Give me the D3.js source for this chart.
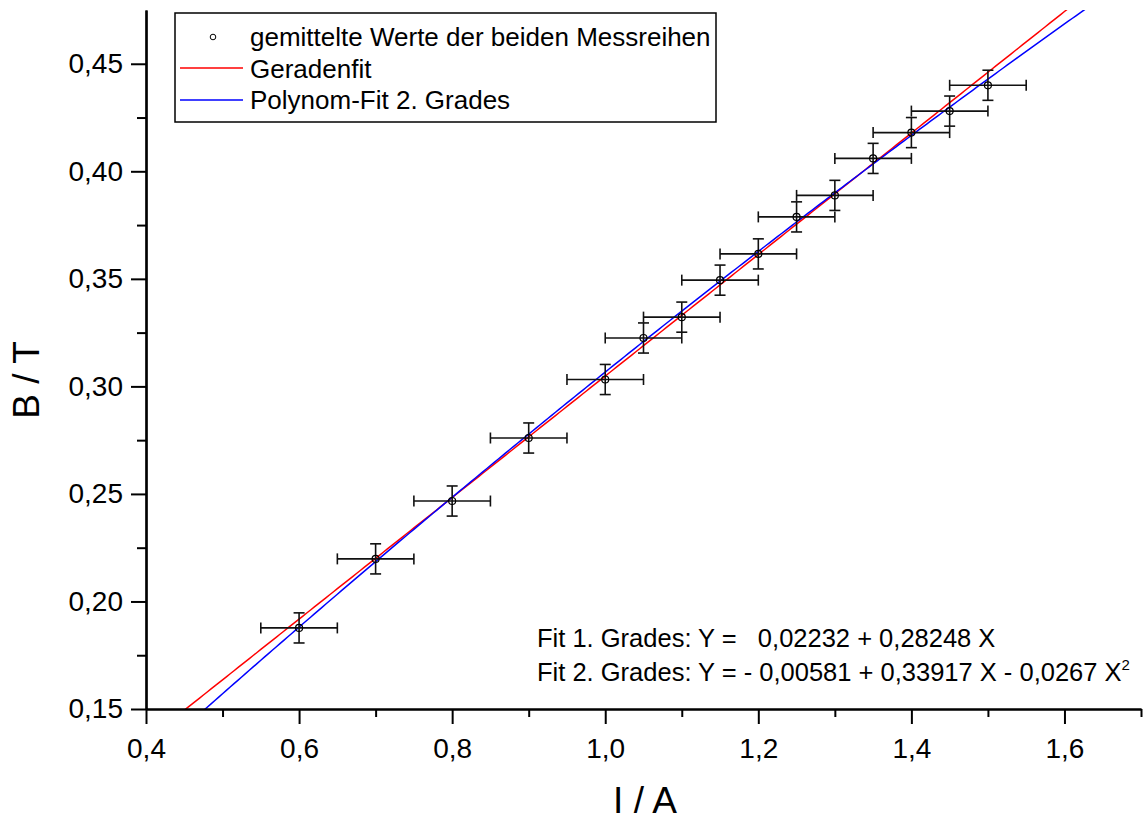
<!DOCTYPE html>
<html><head><meta charset="utf-8">
<script src="https://cdn.jsdelivr.net/npm/d3@7"></script>
<style>body{margin:0;background:#fff}svg{display:block;font-family:"Liberation Sans",Arial,sans-serif}</style>
</head><body>
<svg id="c" width="1148" height="820"></svg>
<script>
const currentA = [0.6,0.7,0.8,0.9,1.0,1.05,1.1,1.15,1.2,1.25,1.3,1.35,1.4,1.45,1.5];
const fieldT   = [0.1877,0.2198,0.2467,0.2760,0.3032,0.3225,0.3322,0.3494,0.3616,0.3788,0.3888,0.4060,0.4180,0.4280,0.4400];
const xErr = 0.05;
const yErr = 0.007;
const linFit = [0.02232, 0.28248];
const quadFit = [-0.00581, 0.33917, -0.0267];
const xTicks = [0.4,0.6,0.8,1.0,1.2,1.4,1.6];
const xMinor = [0.5,0.7,0.9,1.1,1.3,1.5,1.7];
const yTicks = [0.15,0.20,0.25,0.30,0.35,0.40,0.45];
const yMinor = [0.175,0.225,0.275,0.325,0.375,0.425];
const legendLabels = ["gemittelte Werte der beiden Messreihen","Geradenfit","Polynom-Fit 2. Grades"];
const fitText1 = "Fit 1. Grades: Y =   0,02232 + 0,28248 X";
const fitText2 = "Fit 2. Grades: Y = - 0,00581 + 0,33917 X - 0,0267 X";

const svg = d3.select("#c");
const L=146, R=1141, T=10, B=709;
const x = d3.scaleLinear().domain([0.4,1.7]).range([L,R]);
const y = d3.scaleLinear().domain([0.15,0.475]).range([B,T]);
const fmtX = d3.format(".1f"), fmtY = d3.format(".2f");
const comma = s => s.replace(".", ",");

svg.append("defs").append("clipPath").attr("id","clip")
  .append("rect").attr("x",L).attr("y",T).attr("width",R-L).attr("height",B-T);

// fit lines
const xs = d3.range(0.4, 1.7001, 0.005);
const lineGen = f => d3.line().x(d=>x(d)).y(d=>y(f(d)));
const fLin = v => linFit[0]+linFit[1]*v;
const fQuad = v => quadFit[0]+quadFit[1]*v+quadFit[2]*v*v;
const g = svg.append("g").attr("clip-path","url(#clip)");
g.append("path").datum(xs).attr("d",lineGen(fLin)).attr("fill","none").attr("stroke","#ff0000").attr("stroke-width",1.5);
g.append("path").datum(xs).attr("d",lineGen(fQuad)).attr("fill","none").attr("stroke","#0000ff").attr("stroke-width",1.5);

// error bars
const pts = currentA.map((v,i)=>({x:v,y:fieldT[i]}));
const eb = svg.append("g").attr("stroke","#111").attr("stroke-width",1.6).attr("fill","none");
pts.forEach(p=>{
  const cx=x(p.x), cy=y(p.y);
  const x0=x(p.x-xErr), x1=x(p.x+xErr), y0=y(p.y-yErr), y1=y(p.y+yErr);
  eb.append("line").attr("x1",x0).attr("x2",x1).attr("y1",cy).attr("y2",cy);
  eb.append("line").attr("x1",x0).attr("x2",x0).attr("y1",cy-5.5).attr("y2",cy+5.5);
  eb.append("line").attr("x1",x1).attr("x2",x1).attr("y1",cy-5.5).attr("y2",cy+5.5);
  eb.append("line").attr("x1",cx).attr("x2",cx).attr("y1",y0).attr("y2",y1);
  eb.append("line").attr("x1",cx-5.5).attr("x2",cx+5.5).attr("y1",y0).attr("y2",y0);
  eb.append("line").attr("x1",cx-5.5).attr("x2",cx+5.5).attr("y1",y1).attr("y2",y1);
});
svg.append("g").selectAll("circle").data(pts).join("circle")
  .attr("cx",d=>x(d.x)).attr("cy",d=>y(d.y)).attr("r",3.5)
  .attr("fill","none").attr("stroke","#000").attr("stroke-width",1.2);

// axes
const xAxis = svg.append("g").attr("transform",`translate(0,${B})`)
  .call(d3.axisBottom(x).tickValues(xTicks).tickSize(15).tickSizeOuter(0).tickPadding(14).tickFormat(d=>comma(fmtX(d))));
const xAxisMinor = svg.append("g").attr("transform",`translate(0,${B})`)
  .call(d3.axisBottom(x).tickValues(xMinor).tickSize(8).tickSizeOuter(0).tickFormat(""));
const yAxis = svg.append("g").attr("transform",`translate(${L},0)`)
  .call(d3.axisLeft(y).tickValues(yTicks).tickSize(15).tickSizeOuter(0).tickPadding(8).tickFormat(d=>comma(fmtY(d))));
const yAxisMinor = svg.append("g").attr("transform",`translate(${L},0)`)
  .call(d3.axisLeft(y).tickValues(yMinor).tickSize(9).tickSizeOuter(0).tickFormat(""));
[xAxis,xAxisMinor,yAxis,yAxisMinor].forEach(a=>{
  a.select(".domain").attr("stroke","#000").attr("stroke-width",2.2);
  a.selectAll(".tick line").attr("stroke","#000").attr("stroke-width",2);
  a.selectAll("text").attr("fill","#000").attr("font-size",28).attr("font-family","'Liberation Sans',Arial,sans-serif");
});

// axis titles
svg.append("text").attr("x",645).attr("y",813).attr("text-anchor","middle").attr("font-size",37).text("I / A");
svg.append("text").attr("transform","translate(39,380) rotate(-90)").attr("text-anchor","middle").attr("font-size",37).text("B / T");

// legend
const lg = svg.append("g");
lg.append("rect").attr("x",175).attr("y",13).attr("width",541).attr("height",109).attr("fill","#fff").attr("stroke","#000").attr("stroke-width",1.5);
lg.append("circle").attr("cx",213).attr("cy",37).attr("r",2.8).attr("fill","none").attr("stroke","#000").attr("stroke-width",1);
lg.append("line").attr("x1",180).attr("x2",243).attr("y1",68).attr("y2",68).attr("stroke","#ff0000").attr("stroke-width",1.5);
lg.append("line").attr("x1",180).attr("x2",243).attr("y1",100).attr("y2",100).attr("stroke","#0000ff").attr("stroke-width",1.5);
legendLabels.forEach((t,i)=>{
  lg.append("text").attr("x",250).attr("y",46+i*31.5).attr("font-size",26).text(t);
});

// fit annotations
svg.append("text").attr("x",537).attr("y",647).attr("font-size",25.5).style("white-space","pre").text(fitText1);
const t2 = svg.append("text").attr("x",537).attr("y",681).attr("font-size",25.5).style("white-space","pre");
t2.append("tspan").text(fitText2);
t2.append("tspan").attr("dy",-11).attr("font-size",15).text("2");
</script>
</body></html>
